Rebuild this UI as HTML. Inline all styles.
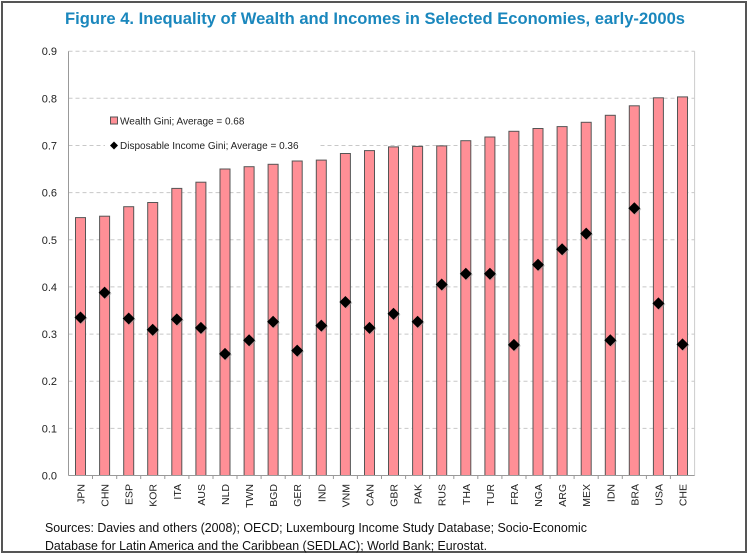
<!DOCTYPE html>
<html><head><meta charset="utf-8"><style>
html,body{margin:0;padding:0;background:#fff;}
svg{display:block;font-family:"Liberation Sans",sans-serif;}
</style></head><body>
<svg width="750" height="556" viewBox="0 0 750 556" xmlns="http://www.w3.org/2000/svg">
<defs>
<g id="d"><path d="M1,-5 L7,1 L1,7 L-5,1Z" fill="#999" opacity="0.5"/><path d="M0,-6 L6,0 L0,6 L-6,0Z" fill="#000"/></g>
</defs>
<rect x="2" y="2" width="744" height="550" fill="#fff" stroke="#555" stroke-width="2"/>
<text x="375" y="24" text-anchor="middle" font-size="17" font-weight="bold" fill="#1a87bd" textLength="620" lengthAdjust="spacingAndGlyphs">Figure 4. Inequality of Wealth and Incomes in Selected Economies, early-2000s</text>
<g stroke="#c8c8c8" stroke-dasharray="4,3" stroke-width="1">
<line x1="68.5" x2="694.6" y1="428.4" y2="428.4"/>
<line x1="68.5" x2="694.6" y1="381.2" y2="381.2"/>
<line x1="68.5" x2="694.6" y1="334.1" y2="334.1"/>
<line x1="68.5" x2="694.6" y1="286.9" y2="286.9"/>
<line x1="68.5" x2="694.6" y1="239.8" y2="239.8"/>
<line x1="68.5" x2="694.6" y1="192.6" y2="192.6"/>
<line x1="68.5" x2="694.6" y1="145.5" y2="145.5"/>
<line x1="68.5" x2="694.6" y1="98.3" y2="98.3"/>
<line x1="68.5" x2="694.6" y1="51.2" y2="51.2"/>
</g>
<line x1="694.6" x2="694.6" y1="51.2" y2="475.5" stroke="#ccc"/>
<g fill="#222" font-size="11" text-anchor="end">
<text x="57" y="479.5">0.0</text><text x="57" y="432.4">0.1</text><text x="57" y="385.2">0.2</text><text x="57" y="338.1">0.3</text><text x="57" y="290.9">0.4</text><text x="57" y="243.8">0.5</text><text x="57" y="196.6">0.6</text><text x="57" y="149.5">0.7</text><text x="57" y="102.3">0.8</text><text x="57" y="55.2">0.9</text>
</g>
<rect x="105" y="108" width="215" height="48" fill="#fff"/>
<g fill="#ff8f96" stroke="#555" stroke-width="1">
<rect x="75.5" y="217.6" width="10" height="257.9"/>
<rect x="99.6" y="216.2" width="10" height="259.3"/>
<rect x="123.7" y="206.7" width="10" height="268.8"/>
<rect x="147.7" y="202.5" width="10" height="273"/>
<rect x="171.8" y="188.4" width="10" height="287.1"/>
<rect x="195.9" y="182.2" width="10" height="293.3"/>
<rect x="220" y="169" width="10" height="306.5"/>
<rect x="244.1" y="166.7" width="10" height="308.8"/>
<rect x="268.1" y="164.3" width="10" height="311.2"/>
<rect x="292.2" y="161" width="10" height="314.5"/>
<rect x="316.3" y="160.1" width="10" height="315.4"/>
<rect x="340.4" y="153.5" width="10" height="322"/>
<rect x="364.5" y="150.6" width="10" height="324.9"/>
<rect x="388.5" y="146.9" width="10" height="328.6"/>
<rect x="412.6" y="146.4" width="10" height="329.1"/>
<rect x="436.7" y="145.9" width="10" height="329.6"/>
<rect x="460.8" y="140.7" width="10" height="334.8"/>
<rect x="484.9" y="137" width="10" height="338.5"/>
<rect x="508.9" y="131.3" width="10" height="344.2"/>
<rect x="533" y="128.5" width="10" height="347"/>
<rect x="557.1" y="126.6" width="10" height="348.9"/>
<rect x="581.2" y="122.3" width="10" height="353.2"/>
<rect x="605.3" y="115.3" width="10" height="360.2"/>
<rect x="629.3" y="105.8" width="10" height="369.7"/>
<rect x="653.4" y="97.8" width="10" height="377.7"/>
<rect x="677.5" y="96.9" width="10" height="378.6"/>
</g>
<use href="#d" x="80.5" y="317.5"/><use href="#d" x="104.6" y="292.6"/><use href="#d" x="128.7" y="318.5"/><use href="#d" x="152.7" y="329.8"/><use href="#d" x="176.8" y="319.4"/><use href="#d" x="200.9" y="327.9"/><use href="#d" x="225" y="353.9"/><use href="#d" x="249.1" y="340.2"/><use href="#d" x="273.1" y="321.8"/><use href="#d" x="297.2" y="350.6"/><use href="#d" x="321.3" y="325.6"/><use href="#d" x="345.4" y="302"/><use href="#d" x="369.5" y="327.9"/><use href="#d" x="393.5" y="313.8"/><use href="#d" x="417.6" y="321.8"/><use href="#d" x="441.7" y="284.5"/><use href="#d" x="465.8" y="273.7"/><use href="#d" x="489.9" y="273.7"/><use href="#d" x="513.9" y="344.9"/><use href="#d" x="538" y="264.7"/><use href="#d" x="562.1" y="249.2"/><use href="#d" x="586.2" y="233.6"/><use href="#d" x="610.3" y="340.2"/><use href="#d" x="634.3" y="208.2"/><use href="#d" x="658.4" y="303.4"/><use href="#d" x="682.5" y="344.4"/>
<line x1="68.5" x2="68.5" y1="51.2" y2="475.5" stroke="#999"/>
<line x1="68.5" x2="694.6" y1="475.5" y2="475.5" stroke="#999"/>
<g stroke="#999">
<line x1="92.5" x2="92.5" y1="475.5" y2="479"/><line x1="116.7" x2="116.7" y1="475.5" y2="479"/><line x1="140.7" x2="140.7" y1="475.5" y2="479"/><line x1="164.8" x2="164.8" y1="475.5" y2="479"/><line x1="188.9" x2="188.9" y1="475.5" y2="479"/><line x1="213" x2="213" y1="475.5" y2="479"/><line x1="237" x2="237" y1="475.5" y2="479"/><line x1="261.1" x2="261.1" y1="475.5" y2="479"/><line x1="285.2" x2="285.2" y1="475.5" y2="479"/><line x1="309.3" x2="309.3" y1="475.5" y2="479"/><line x1="333.4" x2="333.4" y1="475.5" y2="479"/><line x1="357.4" x2="357.4" y1="475.5" y2="479"/><line x1="381.5" x2="381.5" y1="475.5" y2="479"/><line x1="405.6" x2="405.6" y1="475.5" y2="479"/><line x1="429.7" x2="429.7" y1="475.5" y2="479"/><line x1="453.8" x2="453.8" y1="475.5" y2="479"/><line x1="477.8" x2="477.8" y1="475.5" y2="479"/><line x1="501.9" x2="501.9" y1="475.5" y2="479"/><line x1="526" x2="526" y1="475.5" y2="479"/><line x1="550.1" x2="550.1" y1="475.5" y2="479"/><line x1="574.1" x2="574.1" y1="475.5" y2="479"/><line x1="598.2" x2="598.2" y1="475.5" y2="479"/><line x1="622.3" x2="622.3" y1="475.5" y2="479"/><line x1="646.4" x2="646.4" y1="475.5" y2="479"/><line x1="670.4" x2="670.4" y1="475.5" y2="479"/>
</g>
<g font-size="10.5" fill="#222" text-anchor="end">
<text transform="translate(84.5,484) rotate(-90)">JPN</text><text transform="translate(108.6,484) rotate(-90)">CHN</text><text transform="translate(132.7,484) rotate(-90)">ESP</text><text transform="translate(156.7,484) rotate(-90)">KOR</text><text transform="translate(180.8,484) rotate(-90)">ITA</text><text transform="translate(204.9,484) rotate(-90)">AUS</text><text transform="translate(229,484) rotate(-90)">NLD</text><text transform="translate(253.1,484) rotate(-90)">TWN</text><text transform="translate(277.1,484) rotate(-90)">BGD</text><text transform="translate(301.2,484) rotate(-90)">GER</text><text transform="translate(325.3,484) rotate(-90)">IND</text><text transform="translate(349.4,484) rotate(-90)">VNM</text><text transform="translate(373.5,484) rotate(-90)">CAN</text><text transform="translate(397.5,484) rotate(-90)">GBR</text><text transform="translate(421.6,484) rotate(-90)">PAK</text><text transform="translate(445.7,484) rotate(-90)">RUS</text><text transform="translate(469.8,484) rotate(-90)">THA</text><text transform="translate(493.9,484) rotate(-90)">TUR</text><text transform="translate(517.9,484) rotate(-90)">FRA</text><text transform="translate(542,484) rotate(-90)">NGA</text><text transform="translate(566.1,484) rotate(-90)">ARG</text><text transform="translate(590.2,484) rotate(-90)">MEX</text><text transform="translate(614.3,484) rotate(-90)">IDN</text><text transform="translate(638.3,484) rotate(-90)">BRA</text><text transform="translate(662.4,484) rotate(-90)">USA</text><text transform="translate(686.5,484) rotate(-90)">CHE</text>
</g>
<rect x="110.5" y="117" width="7" height="7" fill="#ff8f96" stroke="#555"/>
<text x="120" y="124.5" font-size="10" fill="#222">Wealth Gini; Average = 0.68</text>
<path d="M114,141.5 L118,145.5 L114,149.5 L110,145.5Z" fill="#000"/>
<text x="120" y="149" font-size="10" fill="#222">Disposable Income Gini; Average = 0.36</text>
<text x="45" y="532" font-size="13" fill="#111" textLength="542" lengthAdjust="spacingAndGlyphs">Sources: Davies and others (2008); OECD; Luxembourg Income Study Database; Socio-Economic</text>
<text x="45" y="550" font-size="13" fill="#111" textLength="442" lengthAdjust="spacingAndGlyphs">Database for Latin America and the Caribbean (SEDLAC); World Bank; Eurostat.</text>
</svg>
</body></html>
